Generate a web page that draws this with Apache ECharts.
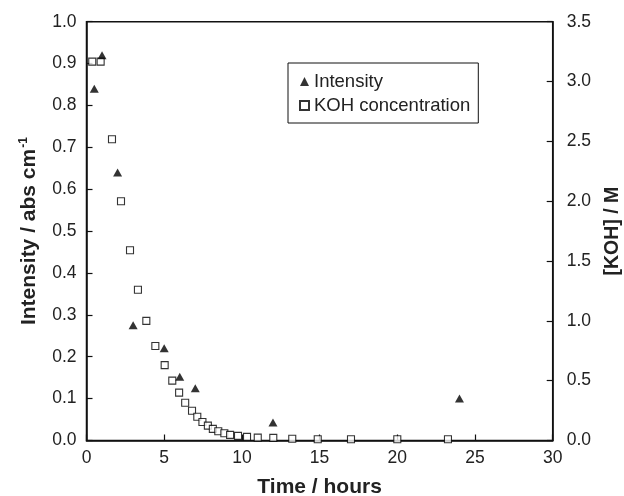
<!DOCTYPE html>
<html>
<head>
<meta charset="utf-8">
<script src="https://cdn.jsdelivr.net/npm/echarts@6/dist/echarts.min.js"></script>
<style>
html,body{margin:0;padding:0;background:#fff;}
#c{width:624px;height:496px;}
</style>
</head>
<body>
<div id="c"></div>
<script>
// Intensity (left axis)
var intensityTime = [0.5, 1.0, 2.0, 3.0, 5.0, 6.0, 7.0, 12.0, 24.0];
var intensityValue = [0.84, 0.92, 0.64, 0.275, 0.22, 0.152, 0.125, 0.043, 0.10];
// KOH concentration (right axis)
var kohTime = [0.37, 0.91, 1.64, 2.22, 2.8, 3.31, 3.85, 4.43, 5.03, 5.52, 5.96, 6.35, 6.79, 7.13, 7.46, 7.81, 8.13, 8.48, 8.87, 9.24, 9.75, 10.33, 11.02, 12.02, 13.24, 14.88, 17.02, 20.0, 23.26];
var kohValue = [3.166, 3.166, 2.517, 2.0, 1.59, 1.26, 1.0, 0.79, 0.63, 0.50, 0.40, 0.316, 0.249, 0.199, 0.155, 0.124, 0.097, 0.077, 0.061, 0.047, 0.039, 0.030, 0.024, 0.022, 0.015, 0.011, 0.01, 0.01, 0.01];
var seriesNames = ['Intensity', 'KOH concentration'];
var xTitle = 'Time / hours';
var yLeftTitle = 'Intensity / abs cm{sup|-1}';
var yRightTitle = '[KOH] / M';

function pairs(xs, ys){ return xs.map(function(x,i){ return [x, ys[i]]; }); }

var FONT = '"Liberation Sans", Arial, Helvetica, sans-serif';
var chart = echarts.init(document.getElementById('c'), null, {renderer:'canvas'});
var axisLine = {show:true, lineStyle:{color:'#111', width:1.5}};
var axisTick = {show:true, inside:true, length:6, lineStyle:{color:'#111', width:1.2}};
var axisLabel = {color:'#222', fontSize:17.5, fontFamily:FONT};

chart.setOption({
  backgroundColor:'#fff',
  animation:false,
  grid:{left:86.5, right:71.3, top:21.7, bottom:55.5, outerBoundsMode:'none', containLabel:false,
        show:true, borderColor:'#111', borderWidth:1.5, backgroundColor:'transparent'},
  legend:{
    left:288, top:63, orient:'vertical',
    data:seriesNames,
    backgroundColor:'#fff', borderColor:'#111', borderWidth:1,
    padding:[9,8,8,11], itemGap:5, itemWidth:9, itemHeight:9,
    textStyle:{fontSize:18.5, color:'#222', fontFamily:FONT}
  },
  xAxis:{
    type:'value', min:0, max:30, interval:5,
    name:xTitle, nameLocation:'middle', nameGap:36,
    nameTextStyle:{fontSize:21, fontWeight:'bold', color:'#222', fontFamily:FONT},
    axisLine:axisLine, axisTick:axisTick, splitLine:{show:false},
    axisLabel:Object.assign({margin:9}, axisLabel)
  },
  yAxis:[{
    type:'value', min:0, max:1.0, interval:0.1, position:'left',
    name:yLeftTitle, nameLocation:'middle', nameGap:46, nameRotate:90,
    nameTextStyle:{fontSize:21, fontWeight:'bold', color:'#222', fontFamily:FONT,
      rich:{sup:{fontSize:12, fontWeight:'bold', color:'#222', fontFamily:FONT, verticalAlign:'top', padding:[0,0,11,1]}}},
    axisLine:axisLine, axisTick:axisTick, splitLine:{show:false},
    axisLabel:Object.assign({margin:10, formatter:function(v){return v.toFixed(1);}}, axisLabel)
  },{
    type:'value', min:0, max:3.5, interval:0.5, position:'right',
    name:yRightTitle, nameLocation:'middle', nameGap:50, nameRotate:90,
    nameTextStyle:{fontSize:19.5, fontWeight:'bold', color:'#222', fontFamily:FONT},
    axisLine:axisLine, axisTick:axisTick, splitLine:{show:false},
    axisLabel:Object.assign({margin:14, formatter:function(v){return v.toFixed(1);}}, axisLabel)
  }],
  series:[{
    name:seriesNames[0], type:'scatter', yAxisIndex:0,
    data:pairs(intensityTime, intensityValue),
    symbol:'triangle', symbolSize:[9,8],
    itemStyle:{color:'#000'}, z:3
  },{
    name:seriesNames[1], type:'scatter', yAxisIndex:1,
    data:pairs(kohTime, kohValue),
    symbol:'rect', symbolSize:7,
    itemStyle:{color:'#fff', borderColor:'#000', borderWidth:1.1}, z:2
  }]
});
</script>
</body>
</html>
